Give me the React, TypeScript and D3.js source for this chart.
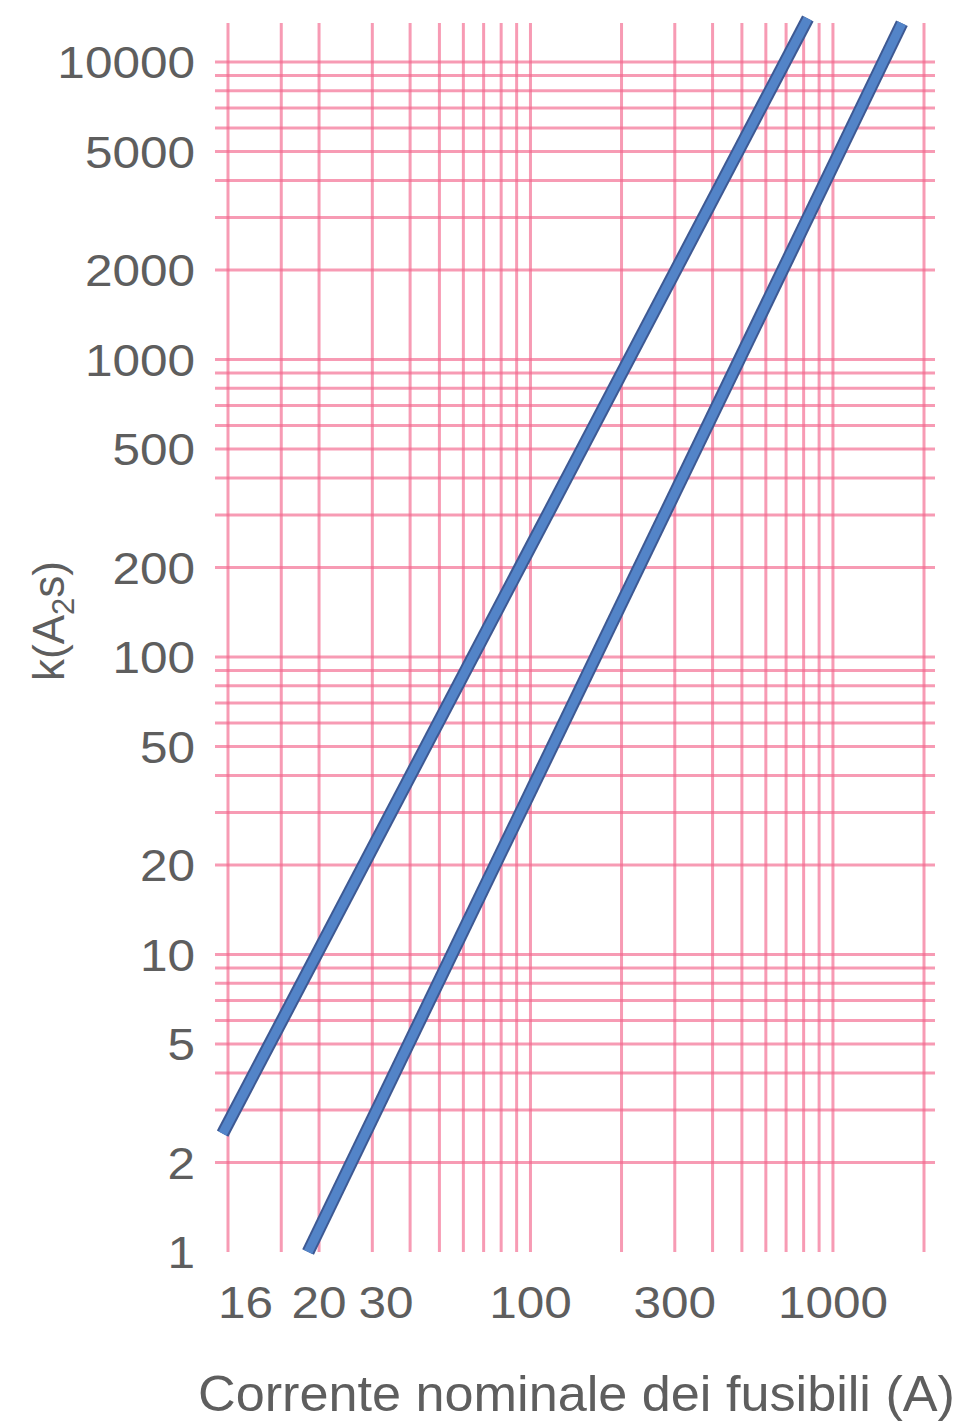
import * as d3 from 'd3';
import { useEffect, useRef } from 'react';

// current (A) tick labels and grid lines
const xTicks = [16, 20, 30, 100, 300, 1000];
const xGrid = [10, 15, 20, 30, 40, 50, 60, 70, 80, 90, 100, 200, 300, 400, 500, 600, 700, 800, 900, 1000, 2000];
// k (A2s) tick labels and grid lines
const yTicks = [1, 2, 5, 10, 20, 50, 100, 200, 500, 1000, 2000, 5000, 10000];
const yGrid = [
  2, 3, 4, 5, 6, 7, 8, 9, 10,
  20, 30, 40, 50, 60, 70, 80, 90, 100,
  200, 300, 400, 500, 600, 700, 800, 900, 1000,
  2000, 3000, 4000, 5000, 6000, 7000, 8000, 9000, 10000,
];
// the two characteristics (straight on log-log paper), end points
const curveA: [number, number][] = [[9.6, 2.5], [826, 14000]];
const curveB: [number, number][] = [[18.4, 1], [1690, 13500]];

const W = 965;
const H = 1423;
const textColor = '#5e5e5e';
const font = '"Liberation Sans", Arial, Helvetica, sans-serif';

export default function App() {
  const ref = useRef<SVGSVGElement>(null);

  useEffect(() => {
    const svg = d3.select(ref.current);
    svg.selectAll('*').remove();

    const x = d3.scaleLog().domain([10, 2000]).range([228, 924]);
    const y = d3.scaleLog().domain([1, 10000]).range([1252, 62]);

    const [x0, x1] = x.range();
    const yBottom = y.range()[0];
    const yTop = y.range()[1];

    const grid = svg.append('g').attr('stroke', '#f2658c').attr('stroke-opacity', 0.65).attr('stroke-width', 3);
    grid.selectAll('line.h')
      .data(yGrid)
      .enter().append('line')
      .attr('class', 'h')
      .attr('x1', x0 - 13)
      .attr('x2', x1 + 11)
      .attr('y1', d => y(d))
      .attr('y2', d => y(d));
    grid.selectAll('line.v')
      .data(xGrid)
      .enter().append('line')
      .attr('class', 'v')
      .attr('x1', d => x(d))
      .attr('x2', d => x(d))
      .attr('y1', yBottom)
      .attr('y2', yTop - 39);

    const line = d3.line<[number, number]>()
      .x(d => x(d[0]))
      .y(d => y(d[1]));

    [curveA, curveB].forEach(c => {
      svg.append('path')
        .attr('d', line(c))
        .attr('fill', 'none')
        .attr('stroke', '#3d5993')
        .attr('stroke-width', 13);
      svg.append('path')
        .attr('d', line(c))
        .attr('fill', 'none')
        .attr('stroke', '#5384c8')
        .attr('stroke-width', 9);
    });

    // y tick labels
    svg.append('g')
      .selectAll('text')
      .data(yTicks)
      .enter().append('text')
      .attr('transform', d => `translate(195,${y(d)}) scale(1.1,1)`)
      .attr('dy', '0.36em')
      .attr('text-anchor', 'end')
      .attr('font-family', font)
      .attr('font-size', 45)
      .attr('fill', textColor)
      .text(d => String(d));

    // x tick labels: first one sits at the axis start, the others avoid overlap
    const charW = 0.556 * 45 * 1.1;
    const pos: number[] = [];
    xTicks.forEach((v, i) => {
      const w = String(v).length * charW;
      let cx = i === 0 ? x0 - 10 + w / 2 : x(v);
      if (i > 0) {
        const prevW = String(xTicks[i - 1]).length * charW;
        const minC = pos[i - 1] + prevW / 2 + 12 + w / 2;
        if (cx < minC) cx = minC;
      }
      pos.push(cx);
    });
    svg.append('g')
      .selectAll('text')
      .data(xTicks)
      .enter().append('text')
      .attr('transform', (d, i) => `translate(${pos[i]},1318) scale(1.1,1)`)
      .attr('text-anchor', 'middle')
      .attr('font-family', font)
      .attr('font-size', 45)
      .attr('fill', textColor)
      .text(d => String(d));

    // axis titles
    svg.append('text')
      .attr('x', 198)
      .attr('y', 1411)
      .attr('font-family', font)
      .attr('font-size', 50)
      .attr('fill', textColor)
      .attr('textLength', 757)
      .attr('lengthAdjust', 'spacingAndGlyphs')
      .text('Corrente nominale dei fusibili (A)');

    const yt = svg.append('text')
      .attr('transform', 'translate(64,621) rotate(-90)')
      .attr('text-anchor', 'middle')
      .attr('font-family', font)
      .attr('font-size', 44)
      .attr('fill', textColor);
    yt.append('tspan').text('k(A');
    yt.append('tspan').attr('font-size', 31).attr('dy', 10).text('2');
    yt.append('tspan').attr('dy', -10).text('s)');
  }, []);

  return (
    <svg
      ref={ref}
      width={W}
      height={H}
      style={{ position: 'absolute', left: 0, top: 0, background: '#fff' }}
    />
  );
}
